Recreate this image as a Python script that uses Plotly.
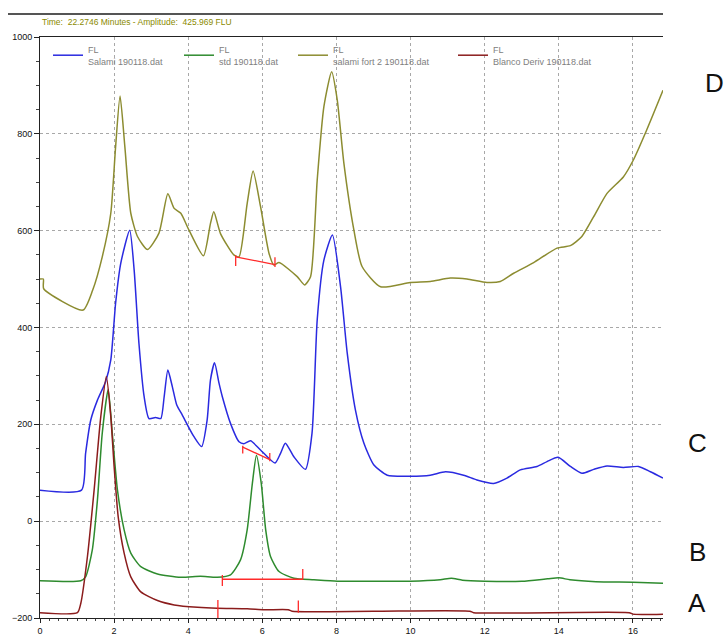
import plotly.graph_objects as go

# ---------------- data ----------------
# C: "Salami 190118.dat" (blue)
c_x = [0, 1.12, 1.23, 1.37, 1.55, 1.77, 1.91, 2.04, 2.18, 2.42, 2.54, 2.67, 2.81, 2.94, 3.12, 3.26,
       3.35, 3.45, 3.57, 3.69, 3.84, 4.15, 4.36, 4.51, 4.60, 4.71, 4.83, 4.92, 5.14, 5.37, 5.50, 5.68,
       5.95, 6.34, 6.49, 6.62, 6.85, 7.16, 7.34, 7.48, 7.66, 7.89, 8.11, 8.29, 8.51, 8.74, 9.01, 9.37,
       9.99, 10.53, 10.94, 11.43, 11.79, 12.24, 12.60, 12.96, 13.41, 13.68, 13.98, 14.31, 14.62, 14.94,
       15.30, 15.74, 16.15, 16.47, 16.81]
c_y = [64, 64, 140, 209, 250, 288, 333, 450, 533, 601, 519, 367, 257, 212, 214, 212,
       257, 312, 278, 240, 219, 175, 154, 209, 292, 327, 285, 257, 202, 164, 160, 166,
       147, 120, 140, 161, 133, 107, 182, 416, 539, 591, 484, 347, 230, 161, 116, 95,
       93, 95, 102, 95, 85, 78, 89, 106, 113, 123, 132, 113, 99, 107,
       114, 111, 113, 102, 89]

# B: "std 190118.dat" (green)
b_x = [0, 1.10, 1.23, 1.41, 1.55, 1.68, 1.84, 1.95, 2.09, 2.27, 2.45, 2.72, 3.17, 3.80, 4.33, 4.78,
       5.14, 5.41, 5.59, 5.73, 5.84, 5.97, 6.09, 6.22, 6.45, 6.85, 7.39, 8.02, 9.0, 10.0, 10.8, 11.1,
       11.4, 12.0, 13.0, 13.7, 14.0, 14.3, 15.0, 16.0, 16.81]
b_y = [-123, -123, -115, -60, 44, 182, 272, 182, 64, -18, -66, -94, -109, -116, -114, -116,
       -111, -80, -18, 78, 136, 78, -18, -73, -104, -118, -121, -124, -124, -124, -121, -118,
       -122, -124, -124, -119, -117, -121, -125, -126, -128]

# D: "salami fort 2 190118.dat" (olive)
d_x = [0, 0.09, 0.1, 1.16, 1.42, 1.68, 1.91, 2.04, 2.16, 2.29, 2.45, 2.63, 2.90, 3.21, 3.45, 3.62,
       3.80, 4.02, 4.41, 4.60, 4.69, 4.87, 5.23, 5.37, 5.59, 5.75, 5.95, 6.18, 6.31, 6.45, 6.94, 7.14,
       7.30, 7.48, 7.66, 7.87, 8.02, 8.20, 8.47, 8.69, 9.19, 9.99, 10.53, 11.07, 11.52, 12.06, 12.42,
       12.78, 13.32, 13.95, 14.31, 14.62, 14.94, 15.30, 15.74, 16.01, 16.37, 16.81]
d_y = [500, 500, 480, 436, 477, 546, 636, 773, 878, 773, 636, 588, 561, 595, 676, 646,
       636, 601, 548, 615, 639, 594, 550, 546, 656, 723, 650, 553, 529, 534, 505, 488,
       505, 705, 856, 928, 870, 739, 601, 526, 484, 493, 495, 502, 500, 493, 495,
       512, 534, 564, 569, 588, 629, 677, 711, 746, 808, 890]

# A: "Blanco Deriv 190118.dat" (dark red)
a_x = [0, 1.01, 1.10, 1.28, 1.46, 1.64, 1.79, 1.91, 2.00, 2.11, 2.27, 2.45, 2.72, 3.17, 3.62, 4.25,
       4.78, 5.59, 6.05, 6.70, 6.80, 9.0, 11.6, 11.7, 15.9, 16.0, 16.81]
a_y = [-189, -189, -170, -73, 64, 216, 299, 216, 113, 9, -66, -115, -146, -164, -173, -178,
       -180, -181, -183, -183, -186, -186, -186, -189, -189, -192, -192]

# integration baselines (start/end time, start/end level) and tick extents
base_d_x = [5.28, 6.34]; base_d_y = [546, 530]; tick_d_lo = [527, 525]; tick_d_hi = [549, 545]
base_c_x = [5.47, 6.20]; base_c_y = [153, 127]; tick_c_lo = [140, 124]; tick_c_hi = [156, 141]
base_b_x = [4.92, 7.09]; base_b_y = [-120, -120]; tick_b_lo = [-134, -121]; tick_b_hi = [-111, -99]
tick_a_x = [4.80, 6.97]; tick_a_lo = [-200, -189]; tick_a_hi = [-163, -164]

names = ["FL<br>Salami 190118.dat", "FL<br>std 190118.dat",
         "FL<br>salami fort 2 190118.dat", "FL<br>Blanco Deriv 190118.dat"]
colors = ["#2a2ae0", "#2e8b2e", "#8c8c30", "#8b1c1c"]
side_labels = ["D", "C", "B", "A"]
status_text = "Time:  22.2746 Minutes - Amplitude:  425.969 FLU"

FONT = "Arial, Liberation Sans, sans-serif"
MARK = "#ff2a2a"

fig = go.Figure()
series = [(c_x, c_y), (b_x, b_y), (d_x, d_y), (a_x, a_y)]
for i, (xs, ys) in enumerate(series):
    fig.add_trace(go.Scatter(
        x=xs, y=ys, mode="lines", name=names[i],
        line=dict(color=colors[i], width=1.5, shape="spline", smoothing=0.6),
        legend="legend" if i == 0 else f"legend{i+1}"))


def seg_trace(bx, by, lo, hi, draw_base=True):
    xs, ys = [], []
    if draw_base:
        xs += [bx[0], bx[1], None]
        ys += [by[0], by[1], None]
    for k in range(2):
        xs += [bx[k], bx[k], None]
        ys += [lo[k], hi[k], None]
    return go.Scatter(x=xs, y=ys, mode="lines", showlegend=False,
                      line=dict(color=MARK, width=1.3), hoverinfo="skip")


fig.add_trace(seg_trace(base_d_x, base_d_y, tick_d_lo, tick_d_hi))
fig.add_trace(seg_trace(base_c_x, base_c_y, tick_c_lo, tick_c_hi))
fig.add_trace(seg_trace(base_b_x, base_b_y, tick_b_lo, tick_b_hi))
fig.add_trace(seg_trace(tick_a_x, [0, 0], tick_a_lo, tick_a_hi, draw_base=False))

W, H = 728, 635
L, T = 40, 37
R = W - 663
B = H - 618
PW, PH = W - L - R, H - T - B


def px(X):
    return (X - L) / PW


def py(Y):
    return (H - B - Y) / PH


leg_common = dict(xanchor="left", yanchor="top", bgcolor="rgba(0,0,0,0)",
                  font=dict(family=FONT, size=9, color="#808080"), borderwidth=0)
leg_x = [48, 179, 293, 453]
layout_legs = {}
for i, lx in enumerate(leg_x):
    key = "legend" if i == 0 else f"legend{i+1}"
    layout_legs[key] = dict(x=px(lx), y=py(37), **leg_common)

annotations = [dict(text=status_text, xref="paper", yref="paper", x=px(40), y=py(22),
                    xanchor="left", yanchor="middle", showarrow=False,
                    font=dict(family=FONT, size=8.5, color="#8a8a00"))]
for lab, (X, Y) in zip(side_labels, [(714, 83), (697, 443), (697, 552), (697, 603)]):
    annotations.append(dict(text=lab, xref="paper", yref="paper", x=px(X), y=py(Y),
                            xanchor="center", yanchor="middle", showarrow=False,
                            font=dict(family=FONT, size=26, color="#111111")))

fig.update_layout(
    width=W, height=H, autosize=False,
    margin=dict(l=L, r=R, t=T, b=B, pad=0),
    paper_bgcolor="white", plot_bgcolor="white",
    showlegend=True,
    annotations=annotations,
    shapes=[dict(type="line", xref="paper", yref="paper", x0=px(8), x1=1, y0=py(14), y1=py(14),
                 line=dict(color="#555555", width=2))],
    **layout_legs,
)
fig.update_xaxes(range=[0, 16.81], tick0=0, dtick=2, showgrid=True, gridcolor="#a8a8a8",
                 griddash="dot", gridwidth=1, zeroline=False, showline=True, linecolor="#222",
                 linewidth=1, mirror=True, ticks="outside", ticklen=4, tickcolor="#222",
                 automargin=False,
                 minor=dict(dtick=0.25, ticks="outside", ticklen=2, tickcolor="#444", showgrid=False),
                 tickfont=dict(family=FONT, size=9, color="#111"))
fig.update_yaxes(range=[-200, 1000], tick0=0, dtick=200, showgrid=True, gridcolor="#a8a8a8",
                 griddash="dot", gridwidth=1, zeroline=False, showline=True, linecolor="#222",
                 linewidth=1, ticks="outside", ticklen=5, tickcolor="#222",
                 automargin=False,
                 minor=dict(dtick=50, ticks="outside", ticklen=3, tickcolor="#444", showgrid=False),
                 tickfont=dict(family=FONT, size=9, color="#111"))

fig.write_html("out.html",
               config={"displayModeBar": False},
               post_script="document.body.style.margin='0';document.body.style.overflow='hidden';")
